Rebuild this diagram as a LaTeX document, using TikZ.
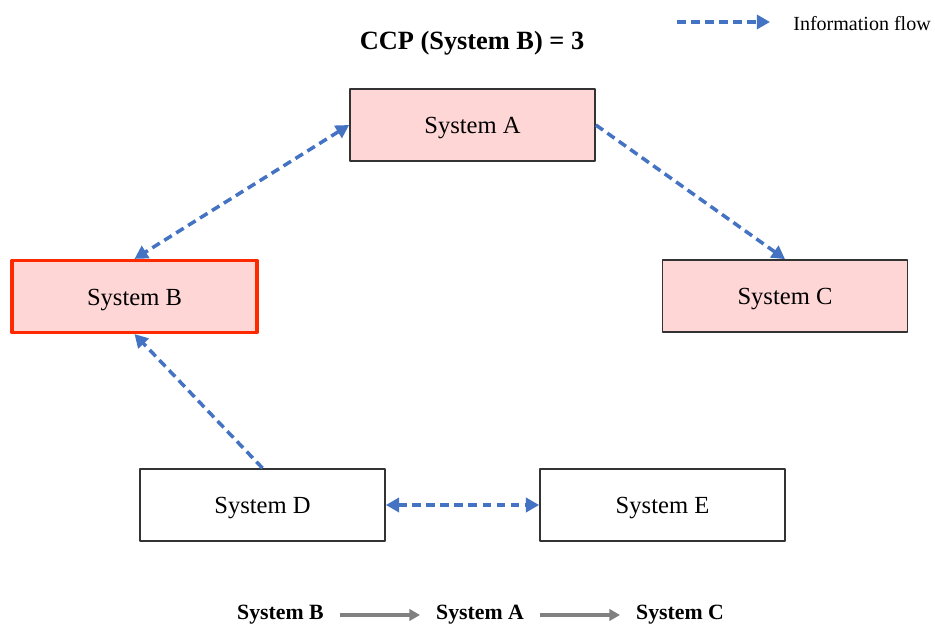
\documentclass[tikz,border=0pt]{standalone}
\usepackage{fontspec}
\setmainfont{Liberation Serif}
\usepackage{tikz}
\usetikzlibrary{arrows.meta}
\definecolor{ffdada}{rgb}{1.,0.84,0.84}
\definecolor{ff2a00}{rgb}{1.,0.16,0.}
\definecolor{qqttcc}{rgb}{0.27,0.45,0.77}
\definecolor{zzzzzz}{rgb}{0.2,0.2,0.2}
\definecolor{grayarrow}{rgb}{0.5,0.5,0.5}
\tikzstyle{sysbox}=[draw=zzzzzz,line width=1pt,minimum width=4.9cm,minimum height=1.44cm,inner sep=0pt,text height=13pt,text depth=3.1pt,font=\fontsize{14}{16}\selectfont]
\tikzstyle{flow}=[line width=2pt,color=qqttcc,dash pattern=on 5pt off 3pt]

\begin{document}
\begin{tikzpicture}[line cap=butt,line join=round,>={Triangle[length=7.5pt,width=8pt]},x=0.02cm,y=0.02cm]
                        \useasboundingbox (0,0) rectangle (935,624);
                        % the systems
                        \node[sysbox,fill=ffdada] (sysA) at (472.5,499) {System A};
                        \node[sysbox,fill=ffdada,draw=ff2a00,line width=1.8pt] (sysB) at (134.5,327.5) {System B};
                        \node[sysbox,fill=ffdada] (sysC) at (785,328) {System C};
                        \node[sysbox,fill=white] (sysD) at (262.5,119) {System D};
                        \node[sysbox,fill=white] (sysE) at (662.5,119) {System E};
                        % information flows
                        \draw [<->,flow] (sysA.west) -- (sysB.north);
                        \draw [->,flow] (sysA.east) -- (sysC.north);
                        \draw [->,flow] (sysD.north) -- (sysB.south);
                        \draw [<->,flow] (sysD.east) -- (sysE.west);
                        % title and legend
                        \node[font=\fontsize{15}{17}\selectfont\bfseries] (title) at (472,581) {CCP (System B) = 3};
                        \coordinate (legA) at (677,602);
                        \coordinate (legB) at (770,602);
                        \draw [->,flow] (legA) -- (legB);
                        \node[anchor=west,inner sep=0pt,font=\fontsize{11.4}{13}\selectfont] (legtext) at (793,600) {Information flow};
                        % path
                        \node[inner xsep=9pt,font=\fontsize{12.4}{14}\selectfont\bfseries] (pathB) at (280.5,9) {System B};
                        \node[inner xsep=9pt,font=\fontsize{12.4}{14}\selectfont\bfseries] (pathA) at (480,9) {System A};
                        \node[inner xsep=9pt,font=\fontsize{12.4}{14}\selectfont\bfseries] (pathC) at (680,9) {System C};
                        \draw [->,line width=2pt,color=grayarrow,>={Triangle[length=6pt,width=6.5pt]}] (pathB) -- (pathA);
                        \draw [->,line width=2pt,color=grayarrow,>={Triangle[length=6pt,width=6.5pt]}] (pathA) -- (pathC);
\end{tikzpicture}
\end{document}
